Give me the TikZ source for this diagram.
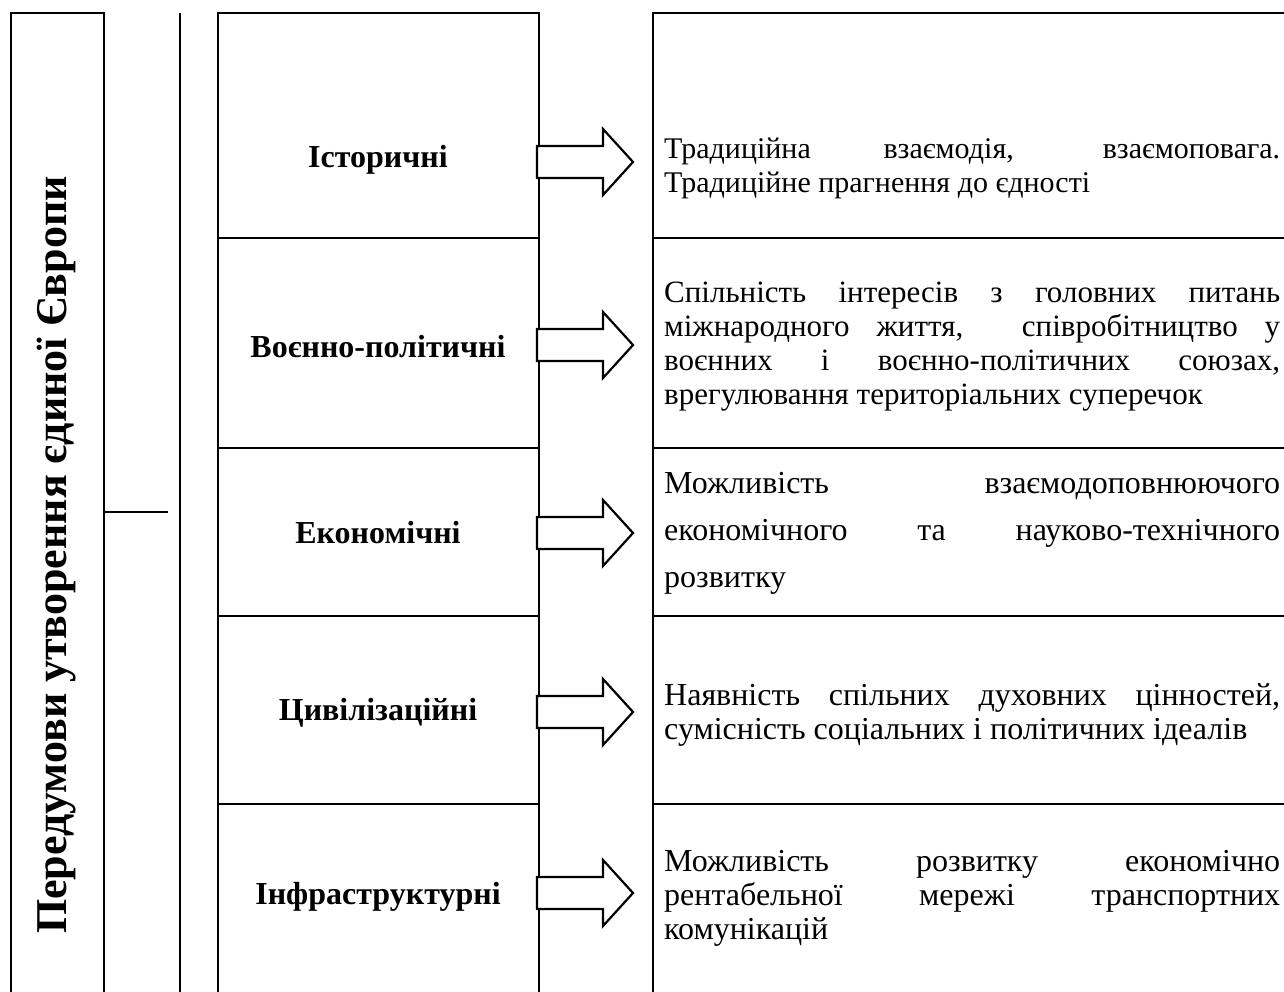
\documentclass[tikz,border=0pt]{standalone}
\usepackage{fontspec}
\setmainfont{Liberation Serif}
\begin{document}
\begin{tikzpicture}[x=1pt,y=-1pt,
  frame/.style={line width=2.8pt},
  thin/.style={line width=1.4pt},
  arrowshape/.style={line width=2.2pt,line join=miter,fill=white},
  label/.style={font=\fontsize{32}{36}\selectfont\bfseries,inner sep=0pt,anchor=center},
  desc/.style={inner sep=0pt,anchor=west,text width=616pt,align=justify}]
\useasboundingbox (0,0) rectangle (1284,992);
% left box
\draw[frame] (11,994) -- (11,13) -- (104,13) -- (104,994);
\draw[frame] (180,13) -- (180,994);
\draw[thin] (104,512) -- (168,512);
% middle column
\draw[frame] (218,994) -- (218,13) -- (539,13) -- (539,994);
\foreach \yy in {238,448,616,804} \draw[frame] (218,\yy) -- (539,\yy);
% right column
\draw[frame] (653,994) -- (653,13) -- (1286,13);
\foreach \yy in {238,448,616,804} \draw[frame] (653,\yy) -- (1286,\yy);
% left rotated title
\node[rotate=90,font=\fontsize{44}{50}\selectfont\bfseries,inner sep=0pt] (title) at (57,555) {Передумови утворення єдиної Європи};
% labels
\node[label] (l1) at (378,160) {Історичні};
\node[label] (l2) at (378,347) {Воєнно-політичні};
\node[label] (l3) at (378,533) {Економічні};
\node[label] (l4) at (378,713) {Цивілізаційні};
\node[label] (l5) at (378,897) {Інфраструктурні};
% arrows
\foreach \cy [count=\i] in {162,345,533,712,893} {
  \draw[arrowshape] (537,\cy-16) -- (603,\cy-16) -- (603,\cy-33) -- (633,\cy) -- (603,\cy+33) -- (603,\cy+16) -- (537,\cy+16) -- cycle;
}
% descriptions
\node[desc,font=\fontsize{30}{34}\selectfont] (d1) at (664,168) {Традиційна взаємодія, взаємоповага.\linebreak Традиційне прагнення до єдності};
\node[desc,font=\fontsize{31}{34}\selectfont] (d2) at (664,347) {Спільність інтересів з головних питань\linebreak міжнародного життя, \ співробітництво у\linebreak воєнних і воєнно-політичних союзах,\linebreak врегулювання територіальних суперечок};
\node[desc,font=\fontsize{32}{47}\selectfont] (d3) at (664,533) {Можливість взаємодоповнюючого\linebreak економічного та науково-технічного\linebreak розвитку};
\node[desc,font=\fontsize{32}{34}\selectfont] (d4) at (664,715) {Наявність спільних духовних цінностей,\linebreak сумісність соціальних і політичних ідеалів};
\node[desc,font=\fontsize{32}{34}\selectfont] (d5) at (664,898) {Можливість розвитку економічно\linebreak рентабельної мережі транспортних\linebreak комунікацій};
\end{tikzpicture}
\end{document}
